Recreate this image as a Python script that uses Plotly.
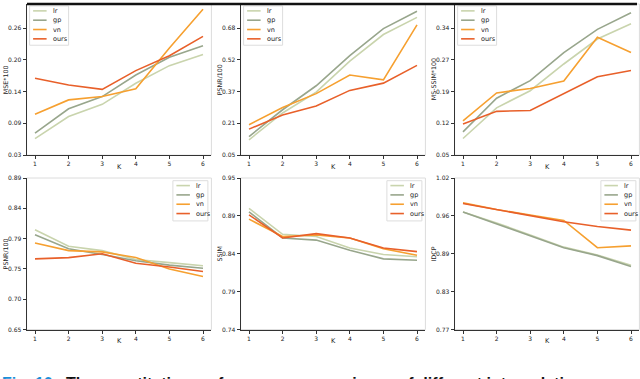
"""Metric vs K comparison, six panels."""
import numpy as np
import plotly.graph_objects as go
from plotly.subplots import make_subplots

K = [1, 2, 3, 4, 5, 6]
METHODS = ["lr", "gp", "vn", "ours"]
COLORS = {"lr": "#c9d4ad", "gp": "#98a68c", "vn": "#f6a030", "ours": "#e8602a"}

# top row
mse_lr = [0.060, 0.100, 0.122, 0.160, 0.192, 0.212]
mse_gp = [0.070, 0.114, 0.136, 0.175, 0.207, 0.228]
mse_vn = [0.104, 0.130, 0.136, 0.150, 0.224, 0.294]
mse_ours = [0.169, 0.157, 0.149, 0.183, 0.210, 0.245]

psnr1_lr = [0.126, 0.259, 0.362, 0.516, 0.648, 0.733]
psnr1_gp = [0.142, 0.275, 0.394, 0.543, 0.677, 0.763]
psnr1_vn = [0.201, 0.286, 0.355, 0.447, 0.423, 0.696]
psnr1_ours = [0.179, 0.249, 0.294, 0.371, 0.407, 0.495]

msssim_lr = [0.088, 0.158, 0.197, 0.258, 0.315, 0.350]
msssim_gp = [0.103, 0.180, 0.220, 0.284, 0.337, 0.375]
msssim_vn = [0.128, 0.192, 0.202, 0.219, 0.319, 0.284]
msssim_ours = [0.121, 0.150, 0.152, 0.191, 0.229, 0.243]

# bottom row
psnr2_lr = [0.808, 0.782, 0.775, 0.761, 0.756, 0.751]
psnr2_gp = [0.800, 0.778, 0.769, 0.759, 0.752, 0.747]
psnr2_vn = [0.787, 0.775, 0.773, 0.764, 0.746, 0.734]
psnr2_ours = [0.762, 0.764, 0.770, 0.755, 0.749, 0.742]

ssim_lr = [0.908, 0.872, 0.869, 0.853, 0.844, 0.841]
ssim_gp = [0.903, 0.867, 0.864, 0.850, 0.838, 0.836]
ssim_vn = [0.893, 0.869, 0.871, 0.867, 0.852, 0.843]
ssim_ours = [0.899, 0.867, 0.873, 0.867, 0.853, 0.848]

idcp_lr = [0.964, 0.946, 0.926, 0.906, 0.893, 0.876]
idcp_gp = [0.964, 0.944, 0.925, 0.905, 0.892, 0.874]
idcp_vn = [0.979, 0.968, 0.959, 0.950, 0.905, 0.908]
idcp_ours = [0.978, 0.968, 0.958, 0.948, 0.940, 0.934]

panels = [
    ("MSE*100", [mse_lr, mse_gp, mse_vn, mse_ours], ["0.03", "0.09", "0.14", "0.20", "0.26"]),
    ("PSNR/100", [psnr1_lr, psnr1_gp, psnr1_vn, psnr1_ours], ["0.05", "0.21", "0.37", "0.52", "0.68"]),
    ("MS-SSIM*100", [msssim_lr, msssim_gp, msssim_vn, msssim_ours], ["0.05", "0.12", "0.19", "0.27", "0.34"]),
    ("PSNR/100", [psnr2_lr, psnr2_gp, psnr2_vn, psnr2_ours], ["0.65", "0.70", "0.75", "0.79", "0.84", "0.89"]),
    ("SSIM", [ssim_lr, ssim_gp, ssim_vn, ssim_ours], ["0.74", "0.79", "0.84", "0.89", "0.95"]),
    ("IDCP", [idcp_lr, idcp_gp, idcp_vn, idcp_ours], ["0.77", "0.83", "0.89", "0.96", "1.02"]),
]

W, H = 640, 379
FONT = "DejaVu Sans"
col_px = [(26.6, 211.4), (240.6, 425.4), (454.6, 639.4)]
row_px = [(0, 154), (177.3, 331.7)]  # top, bottom in pixels from top


def px(x, y):
    return x / W, (H - y) / H


def draw_legend(fig, left, top, width, height, rows):
    bx0, by0 = px(left, top)
    bx1, by1 = px(left + width, top + height)
    fig.add_shape(type="rect", xref="paper", yref="paper", x0=bx0, x1=bx1, y0=by1, y1=by0,
                  line=dict(color="#dddddd", width=1), fillcolor="rgba(255,255,255,0.85)")
    for m, yy in zip(METHODS, rows):
        lx0, ly = px(left + 3.5, yy)
        lx1, _ = px(left + 17, yy)
        fig.add_shape(type="line", xref="paper", yref="paper", x0=lx0, x1=lx1, y0=ly, y1=ly,
                      line=dict(color=COLORS[m], width=1.6))
        tx, _ = px(left + 21, yy)
        fig.add_annotation(text=m, xref="paper", yref="paper", x=tx, y=ly, xanchor="left",
                           yanchor="middle", showarrow=False,
                           font=dict(family=FONT, size=6.5, color="#222"))


fig = make_subplots(rows=2, cols=3)

for i, (ytitle, series, ticks) in enumerate(panels):
    r, c = divmod(i, 3)
    n = i + 1
    xa = "xaxis" if n == 1 else f"xaxis{n}"
    ya = "yaxis" if n == 1 else f"yaxis{n}"
    x0, x1 = col_px[c]
    ytop, ybot = row_px[r]
    xd = [x0 / W, x1 / W]
    yd = [(H - ybot) / H, (H - ytop) / H]

    for m, ys in zip(METHODS, series):
        fig.add_trace(go.Scatter(x=K, y=ys, name=m, mode="lines",
                                 line=dict(color=COLORS[m], width=1.6),
                                 showlegend=False), row=r + 1, col=c + 1)

    tvals = np.linspace(float(ticks[0]), float(ticks[-1]), len(ticks))
    if r == 0:
        # top tick sits ~25px below the frame top
        span = ybot - ytop
        yrange = [tvals[0], tvals[0] + (tvals[-1] - tvals[0]) * span / (span - 24.5)]
    else:
        yrange = [tvals[0], tvals[-1]]

    tickfont = dict(family=FONT, size=6, color="#222")
    fig.layout[xa].update(domain=xd, range=[0.75, 6.25], tickvals=K, ticks="outside",
                          ticklen=3, tickcolor="#333", showline=True, linecolor="#333",
                          linewidth=1, showgrid=False, zeroline=False, tickfont=tickfont)
    fig.layout[ya].update(domain=yd, range=yrange, tickvals=tvals, ticktext=ticks,
                          ticks="outside", ticklen=3, tickcolor="#333", showline=True,
                          linecolor="#333", linewidth=1, showgrid=False, zeroline=False,
                          tickfont=tickfont)

    # light frame for top/right spines
    fig.add_shape(type="rect", xref=f"x{n} domain" if n > 1 else "x domain",
                  yref=f"y{n} domain" if n > 1 else "y domain",
                  x0=0, x1=1, y0=0, y1=1, line=dict(color="#dcdcdc", width=1), layer="below")

    # axis titles
    fig.add_annotation(text="K", xref="paper", yref="paper", x=(xd[0] + xd[1]) / 2,
                       y=(H - ybot - 12) / H, xanchor="center", yanchor="middle",
                       showarrow=False, font=dict(family=FONT, size=6.5, color="#222"))
    fig.add_annotation(text=ytitle, xref="paper", yref="paper", x=(x0 - 21) / W,
                       y=(yd[0] + yd[1]) / 2, xanchor="center", yanchor="middle",
                       textangle=-90, showarrow=False,
                       font=dict(family=FONT, size=6.3, color="#222"))

    if r == 0:
        draw_legend(fig, x0 + 3, 2, 39, 40, [7, 16.5, 26, 35.5])
    else:
        draw_legend(fig, x1 - 38.5, 180, 35, 41, [185, 194.5, 204, 213.5])

# dark line along the top edge
fig.add_shape(type="line", xref="paper", yref="paper", x0=27 / W, x1=637 / W, y0=1, y1=1,
              line=dict(color="#111", width=2.5))

# caption, only its top is visible
fig.add_annotation(
    text="<span style='color:#1b8fd8'><b>Fig. 10.</b></span>  <b>The quantitative performance comparisons of different interpolation</b>",
    xref="paper", yref="paper", x=0, y=(H - 376) / H, xanchor="left", yanchor="top",
    showarrow=False, font=dict(family="Liberation Sans", size=16, color="#111"))

fig.update_layout(width=W, height=H, margin=dict(l=0, r=0, t=0, b=0),
                  paper_bgcolor="white", plot_bgcolor="white", showlegend=False)

fig.write_html("out.html", config={"displayModeBar": False},
               post_script="document.body.style.margin='0';")
